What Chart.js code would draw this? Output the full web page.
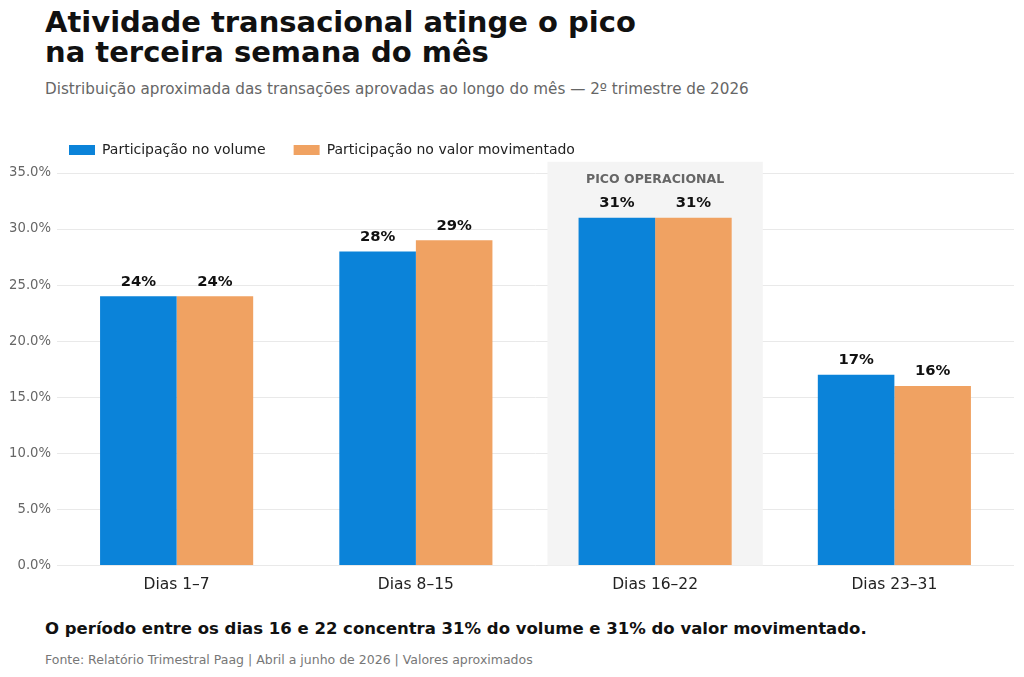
<!DOCTYPE html>
<html lang="pt-BR">
<head>
<meta charset="utf-8">
<script src="https://cdn.jsdelivr.net/npm/chart.js@4.4.1/dist/chart.umd.min.js"></script>
<style>
  html, body { margin: 0; padding: 0; background: #fff; }
  body { width: 1024px; height: 677px; position: relative; overflow: hidden; font-family: "DejaVu Sans", sans-serif; }
  #title { position: absolute; left: 45px; top: 7px; font-size: 29px; font-weight: bold; line-height: 30px; color: #111; }
  #subtitle { position: absolute; left: 45px; top: 80px; font-size: 15.2px; color: #666; }
  #wrap { position: absolute; left: 0; top: 111px; width: 1024px; height: 485px; }
  #note { position: absolute; left: 45px; top: 619px; font-size: 16.5px; font-weight: bold; color: #111; }
  #source { position: absolute; left: 45px; top: 652px; font-size: 12.5px; color: #777; }
</style>
</head>
<body>
<div id="title">Atividade transacional atinge o pico<br>na terceira semana do mês</div>
<div id="subtitle">Distribuição aproximada das transações aprovadas ao longo do mês — 2º trimestre de 2026</div>
<div id="wrap"><canvas id="myChart"></canvas></div>
<div id="note">O período entre os dias 16 e 22 concentra 31% do volume e 31% do valor movimentado.</div>
<div id="source">Fonte: Relatório Trimestral Paag | Abril a junho de 2026 | Valores aproximados</div>

<script>
const periods = ['Dias 1–7', 'Dias 8–15', 'Dias 16–22', 'Dias 23–31'];
const volumeShare = [24, 28, 31, 17];
const valueShare = [24, 29, 31, 16];
const seriesNames = ['Participação no volume', 'Participação no valor movimentado'];
const peakIndex = 2;
const peakLabel = 'PICO OPERACIONAL';

const blue = '#0b83d9';
const orange = '#f0a262';

// gray band behind the peak week
const peakBand = {
    id: 'peakBand',
    beforeDatasetsDraw(chart) {
        const x = chart.scales.x;
        const y = chart.scales.y;
        const ctx = chart.ctx;
        const step = x.getPixelForValue(1) - x.getPixelForValue(0);
        const cx = x.getPixelForValue(peakIndex);
        const top = y.getPixelForValue(36);
        const bottom = y.getPixelForValue(0);
        ctx.save();
        ctx.fillStyle = '#f4f4f4';
        ctx.fillRect(cx - step * 0.45, top, step * 0.9, bottom - top);
        ctx.fillStyle = '#666';
        ctx.font = 'bold 12.5px "DejaVu Sans"';
        ctx.textAlign = 'center';
        ctx.textBaseline = 'middle';
        ctx.fillText(peakLabel, cx, top + 18);
        ctx.restore();
    }
};

// percentage labels above each bar
const barLabels = {
    id: 'barLabels',
    afterDatasetsDraw(chart) {
        const ctx = chart.ctx;
        ctx.save();
        ctx.fillStyle = '#111';
        ctx.font = 'bold 14.8px "DejaVu Sans"';
        ctx.textAlign = 'center';
        ctx.textBaseline = 'bottom';
        chart.data.datasets.forEach((ds, i) => {
            chart.getDatasetMeta(i).data.forEach((bar, j) => {
                ctx.fillText(ds.data[j] + '%', bar.x, bar.y - 7);
            });
        });
        ctx.restore();
    }
};

// nudge the legend so it sits over the plot like in the original
const legendShift = {
    id: 'legendShift',
    beforeDraw(chart) {
        const lg = chart.legend;
        if (!lg || lg._shifted) return;
        lg.left += 41;
        lg.top -= 6;
        lg.bottom -= 6;
        lg._shifted = true;
    },
    afterUpdate(chart) {
        if (chart.legend) chart.legend._shifted = false;
    }
};

new Chart(document.getElementById('myChart'), {
    type: 'bar',
    data: {
        labels: periods,
        datasets: [{
            label: seriesNames[0],
            data: volumeShare,
            backgroundColor: blue,
            borderWidth: 0
        }, {
            label: seriesNames[1],
            data: valueShare,
            backgroundColor: orange,
            borderWidth: 0
        }]
    },
    options: {
        responsive: true,
        maintainAspectRatio: false,
        animation: false,
        layout: { padding: { left: 0, right: 10, top: 10, bottom: 0 } },
        plugins: {
            legend: {
                align: 'start',
                labels: {
                    boxWidth: 26,
                    boxHeight: 10,
                    padding: 28,
                    color: '#222',
                    font: { family: 'DejaVu Sans', size: 14 }
                }
            },
            tooltip: { enabled: false }
        },
        datasets: {
            bar: { categoryPercentage: 0.64, barPercentage: 1 }
        },
        scales: {
            x: {
                grid: { display: false },
                border: { display: false },
                ticks: { color: '#222', font: { family: 'DejaVu Sans', size: 15.5 }, padding: 2 }
            },
            y: {
                min: 0,
                max: 35,
                afterFit(scale) { scale.width = 57; },
                grid: { color: '#e9e9e9', drawTicks: false },
                border: { display: false },
                ticks: {
                    stepSize: 5,
                    color: '#666',
                    padding: 6,
                    font: { family: 'DejaVu Sans', size: 13.2 },
                    callback: v => v.toFixed(1) + '%'
                }
            }
        }
    },
    plugins: [peakBand, barLabels, legendShift]
});
</script>
</body>
</html>
